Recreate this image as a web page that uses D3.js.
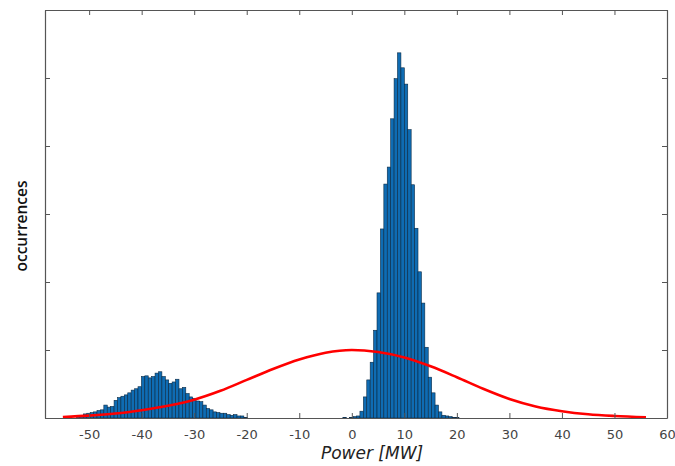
<!DOCTYPE html>
<html>
<head>
<meta charset="utf-8">
<script src="https://cdn.jsdelivr.net/npm/d3@7"></script>
<style>
  html, body { margin: 0; padding: 0; background: #fff; }
  svg { display: block; }
</style>
</head>
<body>
<script>
// ---- data ----
const binStart = -52.4;   // left edge of first bin (MW)
const binWidth = 0.65;    // MW
const counts = [
  2, 4, 6, 7, 8, 9, 11, 12, 19, 16,
  17, 26, 30, 32, 34, 37, 41, 43, 46, 61,
  62, 59, 61, 66, 68, 61, 56, 51, 53, 57,
  43, 45, 36, 31, 29, 25, 24, 19, 14, 12,
  9, 8, 7, 7, 5, 4, 5, 3, 3, 1,
  0, 0, 0, 0, 0, 0, 0, 0, 0, 0,
  0, 0, 0, 0, 0, 0, 0, 0, 0, 0,
  0, 0, 0, 0, 0, 0, 0, 0, 1, 0,
  1, 2, 3, 10, 31, 56, 82, 129, 184, 278,
  344, 369, 440, 499, 537, 515, 491, 424, 343, 279,
  215, 169, 104, 60, 37, 19, 9, 4, 3, 2,
  1, 1
];
const fitX = [-55, -50, -45, -40, -35, -30, -25, -20, -15, -10, -5, 0, 5, 10, 15, 20, 25, 30, 35, 40, 45, 50, 56];
const fitY = [1.5, 3.5, 6.5, 11.5, 18, 27, 40, 56, 72, 86, 96, 100, 97, 89, 76, 60, 43, 28, 17, 10, 5.5, 3, 1.2];
const xTicks = [-50, -40, -30, -20, -10, 0, 10, 20, 30, 40, 50, 60];
const yTicks = [0, 100, 200, 300, 400, 500, 600];
const xLabel = "Power [MW]";
const yLabel = "occurrences";

// ---- layout ----
const W = 675, H = 466;
const L = 45, R = 667, T = 10, B = 418;

const svg = d3.select("body").append("svg").attr("width", W).attr("height", H);

const x = d3.scaleLinear().domain([-58.4, 60]).range([L, R]);
const y = d3.scaleLinear().domain([0, 600]).range([B, T]);

// bars
const bins = counts.map((c, i) => ({ x0: binStart + i * binWidth, x1: binStart + (i + 1) * binWidth, c }))
  .filter(d => d.c > 0);
svg.append("g").selectAll("rect").data(bins).join("rect")
  .attr("x", d => x(d.x0))
  .attr("y", d => y(d.c))
  .attr("width", d => x(d.x1) - x(d.x0))
  .attr("height", d => y(0) - y(d.c))
  .attr("fill", "#0f6cb3")
  .attr("stroke", "#0a2a45")
  .attr("stroke-width", 0.6);

// fit curve
const line = d3.line().x(d => x(d[0])).y(d => y(d[1])).curve(d3.curveMonotoneX);
svg.append("path")
  .datum(fitX.map((v, i) => [v, fitY[i]]))
  .attr("d", line)
  .attr("fill", "none")
  .attr("stroke", "#ff0000")
  .attr("stroke-width", 2.6);

// axes (ticks inward, box)
const axisColor = "#555";
const gB = svg.append("g").attr("transform", `translate(0,${B})`)
  .call(d3.axisBottom(x).tickValues(xTicks).tickSizeInner(-5).tickSizeOuter(0).tickPadding(12)
    .tickFormat(d => String(d)));
const gT = svg.append("g").attr("transform", `translate(0,${T})`)
  .call(d3.axisTop(x).tickValues(xTicks).tickSizeInner(-5).tickSizeOuter(0).tickFormat(""));
const gL = svg.append("g").attr("transform", `translate(${L},0)`)
  .call(d3.axisLeft(y).tickValues(yTicks).tickSizeInner(-5).tickSizeOuter(0).tickFormat(""));
const gR = svg.append("g").attr("transform", `translate(${R},0)`)
  .call(d3.axisRight(y).tickValues(yTicks).tickSizeInner(-5).tickSizeOuter(0).tickFormat(""));
[gB, gT, gL, gR].forEach(g => {
  g.select(".domain").attr("stroke", axisColor).attr("stroke-width", 1.2);
  g.selectAll(".tick line").attr("stroke", axisColor);
});
gB.selectAll(".tick text")
  .attr("fill", "#444")
  .style("font-family", "'DejaVu Sans', sans-serif")
  .style("font-size", "13px");

// labels
svg.append("text")
  .attr("x", 372).attr("y", 459)
  .attr("text-anchor", "middle")
  .style("font-family", "'DejaVu Sans', sans-serif")
  .style("font-style", "italic")
  .style("font-size", "17px")
  .attr("fill", "#222")
  .text(xLabel);
svg.append("text")
  .attr("transform", "translate(27,226) rotate(-90)")
  .attr("text-anchor", "middle")
  .style("font-family", "'Open Sans', sans-serif")
  .style("font-size", "15.5px")
  .style("font-weight", "600")
  .attr("fill", "#111")
  .text(yLabel);
</script>
</body>
</html>
